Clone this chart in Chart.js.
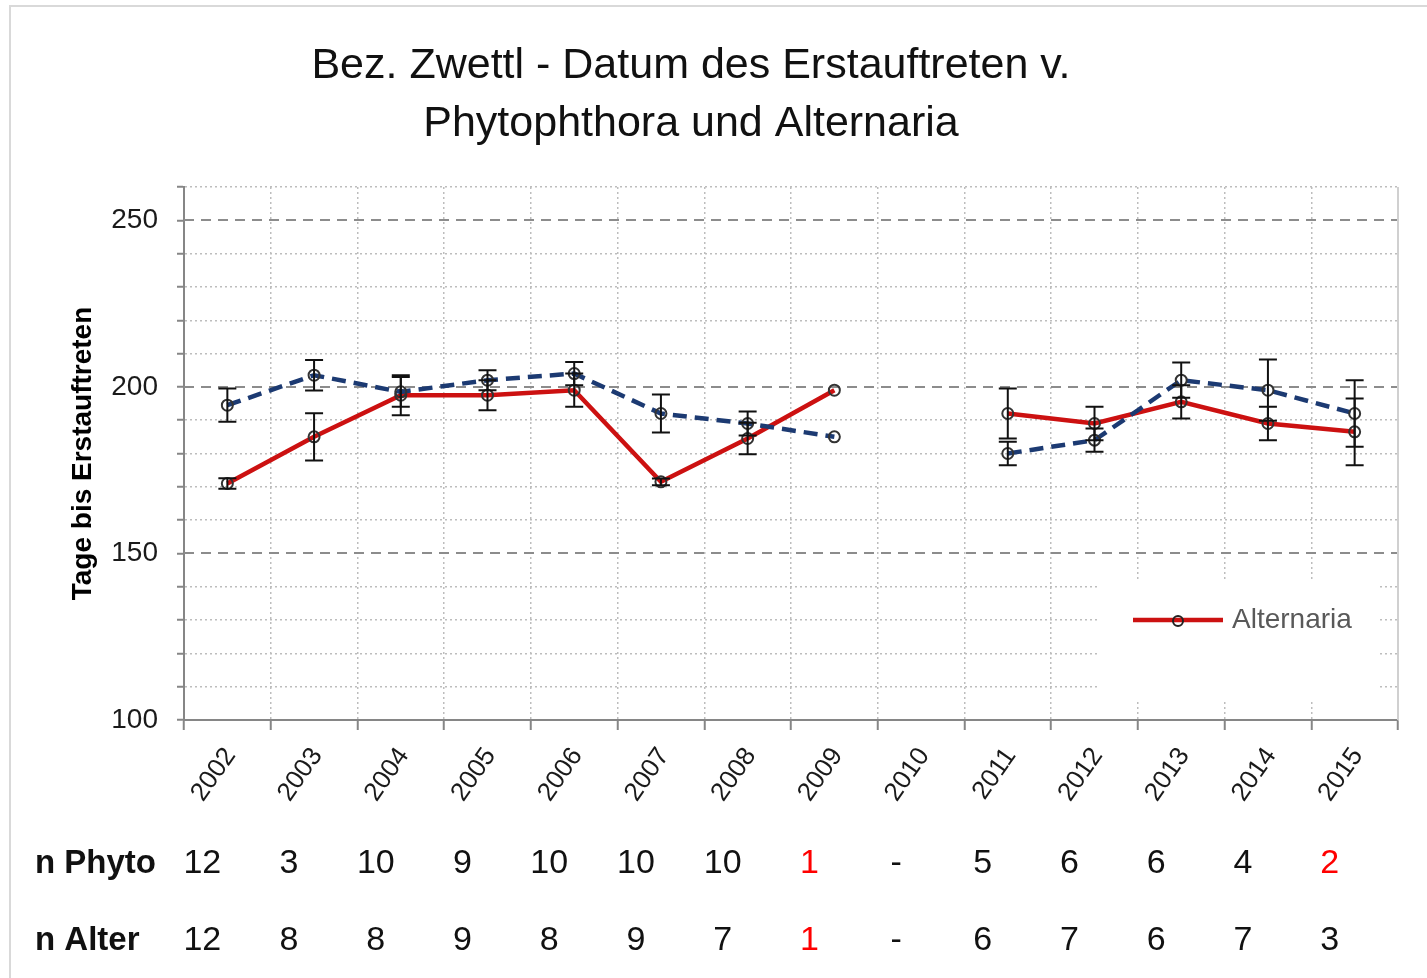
<!DOCTYPE html>
<html>
<head>
<meta charset="utf-8">
<script src="https://cdn.jsdelivr.net/npm/chart.js@4.4.0/dist/chart.umd.min.js"></script>
<style>
body{margin:0;background:#fff;}
#frame{position:absolute;left:9px;top:5px;width:1500px;height:1000px;border-left:2px solid #d9d9d9;border-top:2px solid #d9d9d9;}
#c{position:absolute;left:0;top:0;}
</style>
</head>
<body>
<div id="frame"></div>
<canvas id="c" width="1427" height="978"></canvas>
<script>
// data
const years = ['2002','2003','2004','2005','2006','2007','2008','2009','2010','2011','2012','2013','2014','2015'];
const phyto    = [194.5, 203.5, 198.5, 202, 204, 192, 189, 185, null, 180, 184, 202, 199, 192];
const phytoErr = [5, 4.6, 4.5, 3, 3.5, 5.7, 3.6, 0, null, 3.5, 3.5, 5.3, 9.2, 10];
const alter    = [171, 185, 197.5, 197.5, 199, 171.5, 184.5, 199, null, 192, 189, 195.5, 189, 186.5];
const alterErr = [1.6, 7.1, 6, 4.5, 5, 1, 4.7, 0, null, 7.5, 5, 5, 5, 10];
const nPhyto = [12, 3, 10, 9, 10, 10, 10, 1, null, 5, 6, 6, 4, 2];
const nAlter = [12, 8, 8, 9, 8, 9, 7, 1, null, 6, 7, 6, 7, 3];
const majorTicks = [150, 200, 250];
const titleLines = ['Bez. Zwettl - Datum des Erstauftreten v.', 'Phytophthora und Alternaria'];

const FONT = "'Liberation Sans', Arial, sans-serif";
const RED = '#cc1111', BLUE = '#1c3a72';

const titleText = {
  id: 'titleText',
  afterDraw(chart) {
    const ctx = chart.ctx;
    ctx.save();
    ctx.font = '43px ' + FONT;
    ctx.fillStyle = '#111';
    ctx.textAlign = 'center';
    ctx.fillText(titleLines[0], 691, 78);
    ctx.fillText(titleLines[1], 691, 136);
    ctx.restore();
  }
};

const majorGrid = {
  id: 'majorGrid',
  beforeDatasetsDraw(chart) {
    const {ctx, chartArea: a, scales: {y}} = chart;
    ctx.save();
    ctx.strokeStyle = '#8c8c8c';
    ctx.lineWidth = 2;
    ctx.setLineDash([10, 7]);
    majorTicks.forEach(v => {
      const py = Math.round(y.getPixelForValue(v));
      ctx.beginPath(); ctx.moveTo(a.left, py); ctx.lineTo(a.right, py); ctx.stroke();
    });
    ctx.setLineDash([]);
    ctx.strokeStyle = '#d0d0d0';
    ctx.beginPath(); ctx.moveTo(a.right, a.top); ctx.lineTo(a.right, a.bottom); ctx.stroke();
    // legend box (only Alternaria shown)
    ctx.fillStyle = '#fff';
    ctx.fillRect(1099, 581, 278, 121);
    ctx.strokeStyle = RED; ctx.lineWidth = 4.5;
    ctx.beginPath(); ctx.moveTo(1133, 620); ctx.lineTo(1223, 620); ctx.stroke();
    ctx.strokeStyle = '#222'; ctx.lineWidth = 2;
    ctx.beginPath(); ctx.arc(1178, 621, 5, 0, Math.PI * 2); ctx.stroke();
    ctx.font = '28px ' + FONT;
    ctx.fillStyle = '#595959';
    ctx.textBaseline = 'middle';
    ctx.fillText('Alternaria', 1232, 620);
    ctx.restore();
  }
};

const errorBars = {
  id: 'errorBars',
  afterDatasetsDraw(chart) {
    const {ctx, scales: {y}} = chart;
    ctx.save();
    ctx.strokeStyle = '#111';
    ctx.lineWidth = 2;
    chart.data.datasets.forEach((ds, i) => {
      const meta = chart.getDatasetMeta(i);
      ds.errors.forEach((e, j) => {
        if (!e || ds.data[j] == null) return;
        const x = meta.data[j].x;
        const y1 = y.getPixelForValue(ds.data[j] + e);
        const y2 = y.getPixelForValue(ds.data[j] - e);
        ctx.beginPath();
        ctx.moveTo(x, y1); ctx.lineTo(x, y2);
        ctx.moveTo(x - 9, y1); ctx.lineTo(x + 9, y1);
        ctx.moveTo(x - 9, y2); ctx.lineTo(x + 9, y2);
        ctx.stroke();
      });
    });
    ctx.restore();
  }
};

const nTable = {
  id: 'nTable',
  afterDraw(chart) {
    const {ctx, scales: {x}} = chart;
    const rows = [['n Phyto', nPhyto, 873], ['n Alter', nAlter, 950]];
    ctx.save();
    rows.forEach(([label, vals, by]) => {
      ctx.font = 'bold 33px ' + FONT;
      ctx.fillStyle = '#111';
      ctx.textAlign = 'left';
      ctx.fillText(label, 35, by);
      ctx.font = '34px ' + FONT;
      ctx.textAlign = 'center';
      vals.forEach((v, j) => {
        ctx.fillStyle = (v != null && v < 3) ? '#ff0000' : '#111';
        ctx.fillText(v == null ? '-' : String(v), x.getPixelForValue(j) - 25, by);
      });
    });
    ctx.restore();
  }
};

new Chart(document.getElementById('c'), {
  type: 'line',
  data: {
    labels: years,
    datasets: [{
      label: 'Phytophthora',
      data: phyto,
      errors: phytoErr,
      borderColor: BLUE,
      borderWidth: 4.5,
      borderDash: [14, 8],
      pointRadius: 5.5,
      pointBorderColor: '#333',
      pointBackgroundColor: 'rgba(0,0,0,0)',
      pointBorderWidth: 2,
      spanGaps: false
    }, {
      label: 'Alternaria',
      data: alter,
      errors: alterErr,
      borderColor: RED,
      borderWidth: 4.5,
      pointRadius: 5.5,
      pointBorderColor: '#333',
      pointBackgroundColor: 'rgba(0,0,0,0)',
      pointBorderWidth: 2,
      spanGaps: false
    }]
  },
  options: {
    responsive: false,
    animation: false,
    layout: {padding: {left: 0, top: 187, right: 29, bottom: 0}},
    plugins: {legend: {display: false}, tooltip: {enabled: false}, title: {display: false}},
    scales: {
      x: {
        offset: true,
        grid: {offset: true, color: '#bdbdbd', lineWidth: 1.5, tickColor: '#868686', tickLength: 10, tickWidth: 2},
        border: {color: '#868686', width: 2, dash: [2, 3]},
        ticks: {font: {family: FONT, size: 26}, color: '#1a1a1a', minRotation: 55, maxRotation: 55, padding: 12, labelOffset: 3, autoSkip: false},
        afterFit(s) { s.height = 258; }
      },
      y: {
        min: 100,
        max: 260,
        grid: {
          color: c => (c.tick && c.tick.value % 50 === 0) ? 'rgba(0,0,0,0)' : '#bdbdbd',
          lineWidth: 1.5, tickColor: '#868686', tickLength: 7, tickWidth: 2
        },
        border: {color: '#868686', width: 2, dash: [2, 3]},
        ticks: {
          stepSize: 10, autoSkip: false, padding: 19,
          font: {family: FONT, size: 28}, color: '#1a1a1a',
          callback: v => v % 50 === 0 ? v : ''
        },
        title: {display: true, text: 'Tage bis Erstauftreten', color: '#000',
          font: {family: FONT, size: 28, weight: 'bold'}, padding: {top: 66, bottom: 0}},
        afterFit(s) { s.width = 184; }
      }
    }
  },
  plugins: [titleText, majorGrid, errorBars, nTable]
});
</script>
</body>
</html>
